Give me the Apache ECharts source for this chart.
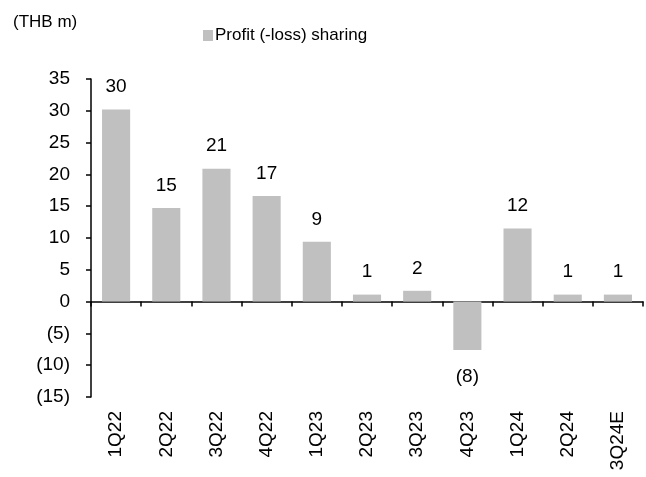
<!DOCTYPE html>
<html>
<head>
<meta charset="utf-8">
<script src="https://cdn.jsdelivr.net/npm/echarts@6/dist/echarts.min.js"></script>
<style>
  html, body { margin: 0; padding: 0; background: #fff; }
  #chart { width: 646px; height: 477px; }
</style>
</head>
<body>
<div id="chart"></div>
<script>
// quarterly profit (-loss) sharing, THB m
const quarters = ['1Q22', '2Q22', '3Q22', '4Q22', '1Q23', '2Q23', '3Q23', '4Q23', '1Q24', '2Q24', '3Q24E'];
const profitSharing = [30.2, 14.7, 20.9, 16.6, 9.4, 1.1, 1.7, -7.6, 11.5, 1.1, 1.1];
const seriesName = 'Profit (-loss) sharing';
const unitLabel = '(THB m)';

const FONT = '"Liberation Sans", Arial, sans-serif';
const fmtNum = v => v < 0 ? '(' + Math.round(-v) + ')' : String(Math.round(v));

const chart = echarts.init(document.getElementById('chart'), null, { renderer: 'canvas' });

const option = {
    animation: false,
    backgroundColor: '#fff',
    textStyle: { fontFamily: FONT, color: '#000' },
    title: {
        text: unitLabel,
        left: 8,
        top: 9,
        textStyle: { fontFamily: FONT, fontSize: 17, fontWeight: 'normal', color: '#000' }
    },
    legend: {
        data: [seriesName],
        left: 198,
        top: 22,
        icon: 'rect',
        itemWidth: 10,
        itemHeight: 11,
        itemGap: 4,
        textStyle: { fontFamily: FONT, fontSize: 17, color: '#000', padding: [0, 0, 0, -3] }
    },
    grid: { left: 91, right: 3, top: 79, bottom: 80 },
    xAxis: [
        {
            // zero line with ticks
            type: 'category',
            data: quarters,
            position: 'top',
            axisLine: { onZero: true, lineStyle: { color: '#000', width: 1.5 } },
            axisTick: { show: true, inside: true, length: 5, lineStyle: { color: '#000', width: 1.5 } },
            axisLabel: { show: false },
            splitLine: { show: false }
        },
        {
            // labels at the bottom
            type: 'category',
            data: quarters,
            position: 'bottom',
            axisLine: { show: false, onZero: false },
            axisTick: { show: false },
            axisLabel: { rotate: 90, margin: 14, fontFamily: FONT, fontSize: 19, color: '#000' },
            splitLine: { show: false }
        }
    ],
    yAxis: {
        type: 'value',
        min: -15,
        max: 35,
        interval: 5,
        axisLine: { show: true, lineStyle: { color: '#000', width: 1.5 } },
        axisTick: { show: true, length: 5, lineStyle: { color: '#000', width: 1.5 } },
        axisLabel: { margin: 21, fontFamily: FONT, fontSize: 19, color: '#000', formatter: fmtNum },
        splitLine: { show: false }
    },
    series: [
        {
            name: seriesName,
            type: 'bar',
            xAxisIndex: 0,
            barWidth: '56%',
            itemStyle: { color: '#c0c0c0' },
            data: profitSharing.map(v => ({
                value: v,
                label: {
                    show: true,
                    position: v < 0 ? 'bottom' : 'top',
                    distance: v < 0 ? 17 : 13,
                    fontFamily: FONT,
                    fontSize: 19,
                    color: '#000',
                    formatter: p => fmtNum(p.value)
                }
            }))
        }
    ]
};

chart.setOption(option);
</script>
</body>
</html>
